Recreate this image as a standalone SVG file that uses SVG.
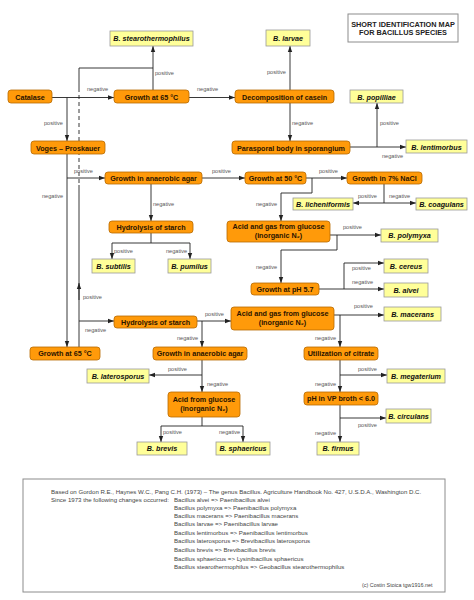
<svg xmlns="http://www.w3.org/2000/svg" width="474" height="600" viewBox="0 0 474 600">
<style>
.n{fill:#FF9A0A;stroke:#B86A00;stroke-width:0.8}
.l{fill:#FFFF99;stroke:#9A9A9A;stroke-width:0.8}
.b{fill:#FFFFFF;stroke:#8C8C8C;stroke-width:1}
.t{font-family:"Liberation Sans",Arial,sans-serif;font-size:7.2px;font-weight:bold;fill:#2A1400;text-anchor:middle}
.lt{font-family:"Liberation Sans",Arial,sans-serif;font-size:7.2px;font-weight:bold;font-style:italic;fill:#111;text-anchor:middle}
.e{font-family:"Liberation Sans",Arial,sans-serif;font-size:5.6px;fill:#555}
.tt{font-family:"Liberation Sans",Arial,sans-serif;font-size:7.3px;font-weight:bold;fill:#222;text-anchor:middle}
.s{font-family:"Liberation Sans",Arial,sans-serif;font-size:6.1px;fill:#444}
.c path{fill:none;stroke:#222;stroke-width:0.9}
</style>
<defs>
<marker id="a" markerUnits="userSpaceOnUse" markerWidth="6" markerHeight="6" viewBox="0 0 6 6" refX="6" refY="3" orient="auto">
<path d="M0,0.8 L6,3 L0,5.2 z" fill="#222"/>
</marker>
</defs>
<rect x="0" y="0" width="474" height="600" fill="#FFFFFF"/>

<g class="c" id="connectors">
<path d="M52,97.5 H114" marker-end="url(#a)"/>
<path d="M67,97.5 V141" marker-end="url(#a)"/>
<path d="M189,97.5 H235" marker-end="url(#a)"/>
<path d="M153,90 V46" marker-end="url(#a)"/>
<path d="M79,68 H153"/>
<path d="M79,68 V88"/>
<path d="M79,88 V185" stroke-dasharray="4,3"/>
<path d="M79,347 V185"/>
<path d="M79,300 V283" marker-end="url(#a)"/>
<path d="M290,90 V46" marker-end="url(#a)"/>
<path d="M290,103 V141" marker-end="url(#a)"/>
<path d="M350,147 H406" marker-end="url(#a)"/>
<path d="M377,147 V103" marker-end="url(#a)"/>
<path d="M67,154 V347" marker-end="url(#a)"/>
<path d="M67,178 H105" marker-end="url(#a)"/>
<path d="M202,178 H245" marker-end="url(#a)"/>
<path d="M151,184 V221" marker-end="url(#a)"/>
<path d="M151,233 V243"/>
<path d="M151,243 H112 V259" marker-end="url(#a)"/>
<path d="M151,243 H190 V259" marker-end="url(#a)"/>
<path d="M306,178 H347" marker-end="url(#a)"/>
<path d="M312,178 V193 H281 V221" marker-end="url(#a)"/>
<path d="M384,184 V203"/>
<path d="M384,203 H353" marker-end="url(#a)"/>
<path d="M384,203 H416" marker-end="url(#a)"/>
<path d="M330,235 H381" marker-end="url(#a)"/>
<path d="M337,235 V250 H281 V283" marker-end="url(#a)"/>
<path d="M319,289 H384" marker-end="url(#a)"/>
<path d="M344,289 V263 H384" marker-end="url(#a)"/>
<path d="M79,321 H114" marker-end="url(#a)"/>
<path d="M197,321 H231" marker-end="url(#a)"/>
<path d="M202,321 V347" marker-end="url(#a)"/>
<path d="M334,315 H384" marker-end="url(#a)"/>
<path d="M340,315 V347" marker-end="url(#a)"/>
<path d="M202,360 V392" marker-end="url(#a)"/>
<path d="M202,375 H149" marker-end="url(#a)"/>
<path d="M340,360 V392" marker-end="url(#a)"/>
<path d="M340,375 H387" marker-end="url(#a)"/>
<path d="M340,405 V442" marker-end="url(#a)"/>
<path d="M340,418 H386" marker-end="url(#a)"/>
<path d="M202,417 V426"/>
<path d="M202,426 H161 V442" marker-end="url(#a)"/>
<path d="M202,426 H243 V442" marker-end="url(#a)"/>
</g>

<g id="edge-labels">
<text class="e" x="87" y="91">negative</text>
<text class="e" x="44" y="125">positive</text>
<text class="e" x="197" y="91">negative</text>
<text class="e" x="155" y="74.5">positive</text>
<text class="e" x="267" y="74">positive</text>
<text class="e" x="292" y="124.5">negative</text>
<text class="e" x="382" y="158">negative</text>
<text class="e" x="380" y="124.5">positive</text>
<text class="e" x="74" y="173">positive</text>
<text class="e" x="42" y="198">negative</text>
<text class="e" x="212" y="173">positive</text>
<text class="e" x="153" y="206">negative</text>
<text class="e" x="114" y="253">positive</text>
<text class="e" x="166" y="253">negative</text>
<text class="e" x="319" y="173">positive</text>
<text class="e" x="256" y="206">negative</text>
<text class="e" x="358" y="198">positive</text>
<text class="e" x="389" y="198">negative</text>
<text class="e" x="343" y="229">positive</text>
<text class="e" x="256" y="269">negative</text>
<text class="e" x="352" y="270">positive</text>
<text class="e" x="352" y="284">negative</text>
<text class="e" x="83" y="299">positive</text>
<text class="e" x="85" y="332">negative</text>
<text class="e" x="205" y="316">positive</text>
<text class="e" x="177" y="340">negative</text>
<text class="e" x="354" y="308">positive</text>
<text class="e" x="315" y="340">negative</text>
<text class="e" x="168" y="371">positive</text>
<text class="e" x="207" y="386">negative</text>
<text class="e" x="358" y="371">positive</text>
<text class="e" x="315" y="386">negative</text>
<text class="e" x="358" y="427">positive</text>
<text class="e" x="315" y="435">negative</text>
<text class="e" x="163" y="434">positive</text>
<text class="e" x="219" y="434">negative</text>
</g>

<g id="title"><rect class="b" x="348" y="14" width="110" height="28"/>
<text class="tt" x="403" y="26.5">SHORT IDENTIFICATION MAP</text>
<text class="tt" x="403" y="35">FOR BACILLUS SPECIES</text></g>

<g id="catalase"><rect class="n" x="8" y="90" width="44" height="13" rx="3"/><text class="t" x="30" y="99.5">Catalase</text></g>
<g id="growth65a"><rect class="n" x="114" y="90" width="75" height="13" rx="3"/><text class="t" x="151.5" y="99.5">Growth at 65 °C</text></g>
<g id="casein"><rect class="n" x="235" y="90" width="99" height="13" rx="3"/><text class="t" x="284.5" y="99.5">Decomposition of casein</text></g>
<g id="stearo"><rect class="l" x="110" y="31" width="83" height="15"/><text class="lt" x="151.5" y="41">B. stearothermophilus</text></g>
<g id="larvae"><rect class="l" x="266" y="30" width="44" height="16"/><text class="lt" x="288" y="40.5">B. larvae</text></g>
<g id="voges"><rect class="n" x="31" y="141" width="74" height="13" rx="3"/><text class="t" x="68" y="150.5">Voges – Proskauer</text></g>
<g id="parasporal"><rect class="n" x="232" y="141" width="118" height="13" rx="3"/><text class="t" x="291" y="150.5">Parasporal body in sporangium</text></g>
<g id="popilliae"><rect class="l" x="350" y="90" width="53" height="13"/><text class="lt" x="376.5" y="99.5">B. popilliae</text></g>
<g id="lentimorbus"><rect class="l" x="406" y="140" width="61" height="13"/><text class="lt" x="436.5" y="149.5">B. lentimorbus</text></g>
<g id="anaer1"><rect class="n" x="105" y="172" width="97" height="12" rx="3"/><text class="t" x="153.5" y="180.6">Growth in anaerobic agar</text></g>
<g id="growth50"><rect class="n" x="245" y="172" width="61" height="12" rx="3"/><text class="t" x="275.5" y="180.6">Growth at 50 °C</text></g>
<g id="nacl"><rect class="n" x="347" y="172" width="75" height="12" rx="3"/><text class="t" x="384.5" y="180.6">Growth in 7% NaCl</text></g>
<g id="licheniformis"><rect class="l" x="293" y="198" width="60" height="12"/><text class="lt" x="323" y="206.6">B. licheniformis</text></g>
<g id="coagulans"><rect class="l" x="416" y="198" width="51" height="12"/><text class="lt" x="441.5" y="206.6">B. coagulans</text></g>
<g id="hyd1"><rect class="n" x="109" y="221" width="84" height="12" rx="3"/><text class="t" x="151" y="229.6">Hydrolysis of starch</text></g>
<g id="acidgas1"><rect class="n" x="227" y="221" width="103" height="21" rx="3"/><text class="t" x="278.5" y="229.3">Acid and gas from glucose</text><text class="t" x="278.5" y="238.3">(inorganic N₂)</text></g>
<g id="polymyxa"><rect class="l" x="381" y="229" width="57" height="13"/><text class="lt" x="409.5" y="238.3">B. polymyxa</text></g>
<g id="subtilis"><rect class="l" x="92" y="259" width="43" height="14"/><text class="lt" x="113.5" y="268.6">B. subtilis</text></g>
<g id="pumilus"><rect class="l" x="168" y="259" width="43" height="14"/><text class="lt" x="189.5" y="268.6">B. pumilus</text></g>
<g id="ph57"><rect class="n" x="251" y="283" width="68" height="12" rx="3"/><text class="t" x="285" y="291.6">Growth at pH 5.7</text></g>
<g id="cereus"><rect class="l" x="384" y="259" width="44" height="14"/><text class="lt" x="406" y="268.6">B. cereus</text></g>
<g id="alvei"><rect class="l" x="384" y="283" width="44" height="14"/><text class="lt" x="406" y="292.6">B. alvei</text></g>
<g id="acidgas2"><rect class="n" x="231" y="307" width="103" height="23" rx="3"/><text class="t" x="282.5" y="316">Acid and gas from glucose</text><text class="t" x="282.5" y="325">(inorganic N₂)</text></g>
<g id="macerans"><rect class="l" x="384" y="307" width="57" height="14"/><text class="lt" x="412.5" y="316.6">B. macerans</text></g>
<g id="hyd2"><rect class="n" x="114" y="316" width="83" height="12" rx="3"/><text class="t" x="155.5" y="324.6">Hydrolysis of starch</text></g>
<g id="growth65b"><rect class="n" x="30" y="347" width="70" height="13" rx="3"/><text class="t" x="65" y="356.2">Growth at 65 °C</text></g>
<g id="anaer2"><rect class="n" x="153" y="347" width="94" height="13" rx="3"/><text class="t" x="200" y="356.2">Growth in anaerobic agar</text></g>
<g id="citrate"><rect class="n" x="304" y="347" width="74" height="13" rx="3"/><text class="t" x="341" y="356.2">Utilization of citrate</text></g>
<g id="laterosporus"><rect class="l" x="87" y="369" width="62" height="14"/><text class="lt" x="118" y="378.6">B. laterosporus</text></g>
<g id="megaterium"><rect class="l" x="387" y="369" width="58" height="14"/><text class="lt" x="416" y="378.6">B. megaterium</text></g>
<g id="acidglu"><rect class="n" x="168" y="392" width="72" height="25" rx="3"/><text class="t" x="204" y="402">Acid from glucose</text><text class="t" x="204" y="411">(inorganic N₂)</text></g>
<g id="phvp"><rect class="n" x="304" y="392" width="74" height="13" rx="3"/><text class="t" x="341" y="401.2">pH in VP broth &lt; 6.0</text></g>
<g id="circulans"><rect class="l" x="386" y="409" width="45" height="14"/><text class="lt" x="408.5" y="418.6">B. circulans</text></g>
<g id="brevis"><rect class="l" x="137" y="442" width="50" height="13"/><text class="lt" x="162" y="451.2">B. brevis</text></g>
<g id="sphaericus"><rect class="l" x="216" y="442" width="54" height="13"/><text class="lt" x="243" y="451.2">B. sphaericus</text></g>
<g id="firmus"><rect class="l" x="317" y="442" width="42" height="13"/><text class="lt" x="338" y="451.2">B. firmus</text></g>

<g id="notes"><rect class="b" x="23" y="479" width="422" height="113"/>
<text class="s" x="51" y="494">Based on Gordon R.E., Haynes W.C., Pang C.H. (1973) – The genus Bacillus. Agriculture Handbook No. 427, U.S.D.A., Washington D.C.</text>
<text class="s" x="51" y="502">Since 1973 the following changes occurred:</text>
<text class="s" x="174" y="502">Bacillus alvei =&gt; Paenibacillus alvei</text>
<text class="s" x="174" y="510">Bacillus polymyxa =&gt; Paenibacillus polymyxa</text>
<text class="s" x="174" y="518">Bacillus macerans =&gt; Paenibacillus macerans</text>
<text class="s" x="174" y="525.5">Bacillus larvae =&gt; Paenibacillus larvae</text>
<text class="s" x="174" y="534.5">Bacillus lentimorbus =&gt; Paenibacillus lentimorbus</text>
<text class="s" x="174" y="543">Bacillus laterosporus =&gt; Brevibacillus laterosporus</text>
<text class="s" x="174" y="552">Bacillus brevis =&gt; Brevibacillus brevis</text>
<text class="s" x="174" y="560.5">Bacillus sphaericus =&gt; Lysinibacillus sphaericus</text>
<text class="s" x="174" y="568.5">Bacillus stearothermophilus =&gt; Geobacillus stearothermophilus</text>
<text class="s" x="362" y="587" style="font-size:5.4px">(c) Costin Stoica  tgw1916.net</text>
</g>
</svg>
